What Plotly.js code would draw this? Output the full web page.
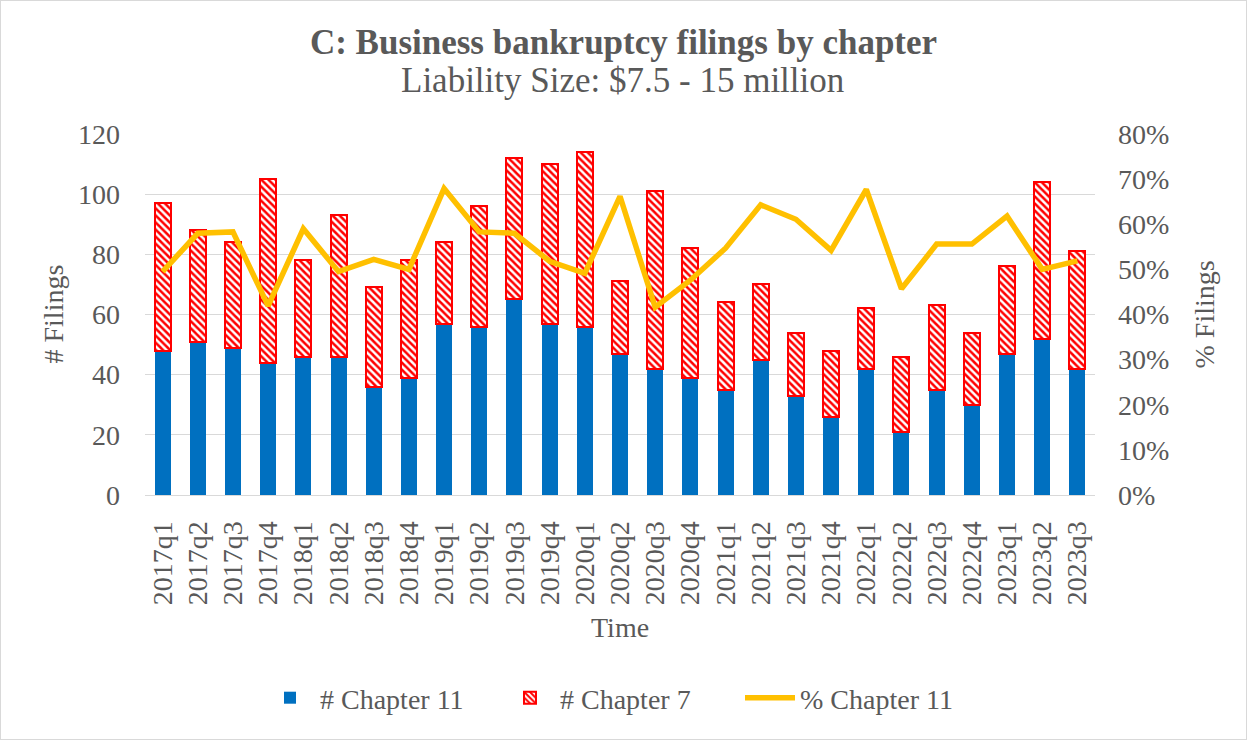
<!DOCTYPE html>
<html>
<head>
<meta charset="utf-8">
<script src="https://cdn.plot.ly/plotly-3.0.1.min.js"></script>
<style>
  html, body { margin: 0; padding: 0; background: #fff; }
  #chart { width: 1245px; height: 738px; border: 1px solid #d9d9d9; }
</style>
</head>
<body>
<div id="chart"></div>
<script>
const quarters = ["2017q1","2017q2","2017q3","2017q4","2018q1","2018q2","2018q3","2018q4",
  "2019q1","2019q2","2019q3","2019q4","2020q1","2020q2","2020q3","2020q4",
  "2021q1","2021q2","2021q3","2021q4","2022q1","2022q2","2022q3","2022q4",
  "2023q1","2023q2","2023q3"];
const chapter11 = [48,51,49,44,46,46,36,39,57,56,65,57,56,47,42,39,35,45,33,26,42,21,35,30,47,52,42];
const chapter7  = [49,37,35,61,32,47,33,39,27,40,47,53,58,24,59,43,29,25,21,22,20,25,28,24,29,52,39];
const pctChapter11 = [0.495,0.580,0.583,0.419,0.590,0.495,0.522,0.500,0.679,0.583,0.580,0.518,0.491,0.662,
  0.416,0.476,0.547,0.643,0.611,0.542,0.677,0.457,0.556,0.556,0.618,0.500,0.519];

const FONT = "'Liberation Serif', 'Times New Roman', serif";
const TXT = "#595959";

const traces = [
  {
    type: "bar", name: "# Chapter 11", x: quarters, y: chapter11,
    marker: { color: "#0070C0", line: { width: 0 } }
  },
  {
    type: "bar", name: "# Chapter 7", x: quarters, y: chapter7,
    marker: {
      color: "#FFFFFF",
      line: { color: "#FF0000", width: 2 },
      pattern: { shape: "\\", fgcolor: "#FF0000", bgcolor: "#FFFFFF", size: 5, solidity: 0.5 }
    }
  },
  {
    type: "scatter", mode: "lines", name: "% Chapter 11", x: quarters, y: pctChapter11,
    yaxis: "y2", line: { color: "#FFC000", width: 5.5 }
  }
];

const layout = {
  width: 1245, height: 738,
  margin: { l: 144, r: 151, t: 133, b: 244 },
  paper_bgcolor: "#FFFFFF", plot_bgcolor: "#FFFFFF",
  barmode: "stack", bargap: 0.545,
  font: { family: FONT, size: 28, color: TXT },
  showlegend: true,
  title: {
    text: "<b>C: Business bankruptcy filings by chapter</b>",
    font: { family: FONT, size: 35, color: TXT },
    x: 0.5, xanchor: "center", xref: "container",
    y: 1 - 41/738, yanchor: "middle", yref: "container"
  },
  xaxis: {
    type: "category", tickangle: -90, ticks: "", ticklabelstandoff: 14,
    showgrid: false, showline: true, linecolor: "#d9d9d9", linewidth: 1,
    tickfont: { family: FONT, size: 28, color: TXT }, zeroline: false
  },
  yaxis: {
    range: [0, 120], dtick: 20, ticks: "", ticklabelstandoff: 24,
    showgrid: true, gridcolor: "#d9d9d9", gridwidth: 1, zeroline: false, showline: false,
    tickfont: { family: FONT, size: 28, color: TXT }
  },
  yaxis2: {
    overlaying: "y", side: "right", range: [0, 0.8], dtick: 0.1, tickformat: ".0%",
    ticks: "", ticklabelstandoff: 22, showgrid: false, zeroline: false, showline: false,
    tickfont: { family: FONT, size: 28, color: TXT }
  },
  legend: {
    orientation: "h", x: 0.5, xanchor: "center", y: (494 - 697) / 361, yanchor: "middle",
    font: { family: FONT, size: 28, color: TXT }, itemwidth: 50, traceorder: "normal",
    entrywidth: 175, entrywidthmode: "pixels"
  },
  annotations: [
    { text: "Liability Size: $7.5 - 15 million", xref: "paper", yref: "paper",
      x: (621 - 144) / 950, y: (494 - 79) / 361, xanchor: "center", yanchor: "middle",
      showarrow: false, font: { family: FONT, size: 35, color: TXT } },
    { text: "Time", xref: "paper", yref: "paper", x: 0.5, y: (494 - 626) / 361,
      xanchor: "center", yanchor: "middle", showarrow: false,
      font: { family: FONT, size: 28, color: TXT } },
    { text: "# Filings", xref: "paper", yref: "paper", x: (52 - 144) / 950, y: 0.5,
      xanchor: "center", yanchor: "middle", textangle: -90, showarrow: false,
      font: { family: FONT, size: 28, color: TXT } },
    { text: "% Filings", xref: "paper", yref: "paper", x: (1203 - 144) / 950, y: 0.5,
      xanchor: "center", yanchor: "middle", textangle: -90, showarrow: false,
      font: { family: FONT, size: 28, color: TXT } }
  ]
};

Plotly.newPlot("chart", traces, layout, { displayModeBar: false, staticPlot: true });
</script>
</body>
</html>
